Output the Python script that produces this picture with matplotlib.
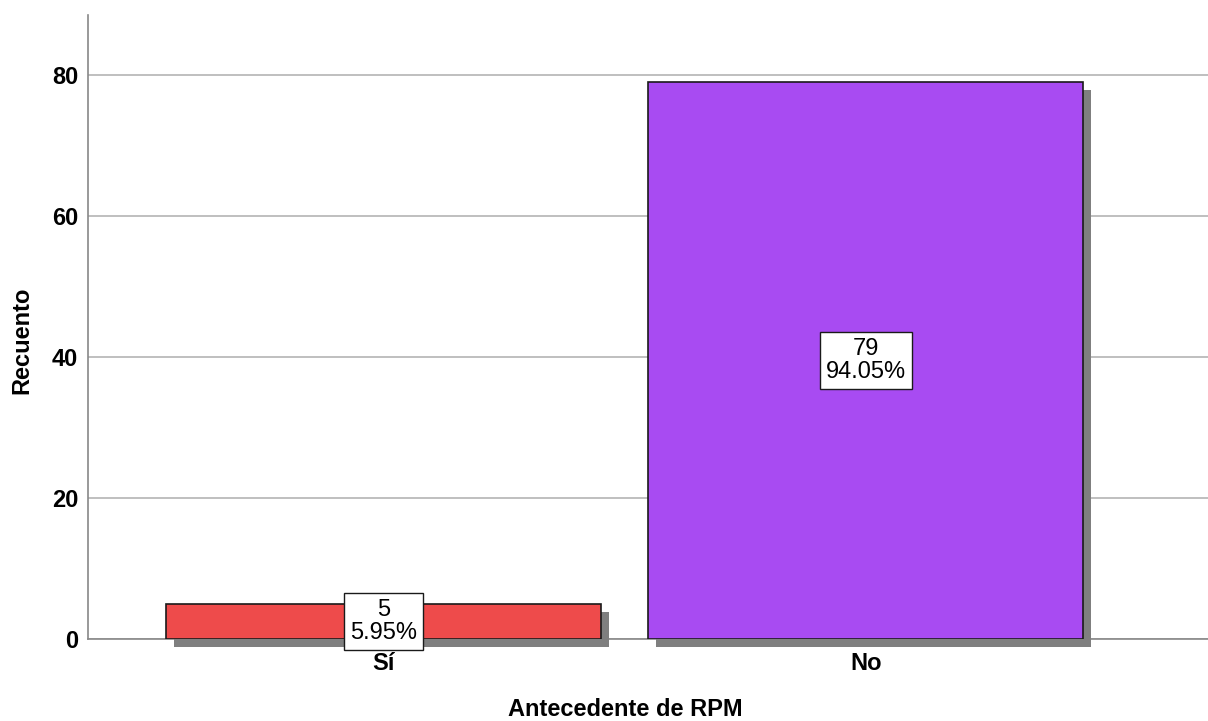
import matplotlib
matplotlib.use("Agg")
import matplotlib.pyplot as plt
import matplotlib.transforms as mtransforms

categories = ["Sí", "No"]
counts = [5, 79]
percents = ["5.95%", "94.05%"]
bar_colors = ["#EE4B4B", "#A84BF2"]
y_ticks = [0, 20, 40, 60, 80]

plt.rcParams["font.family"] = ["Liberation Sans", "DejaVu Sans"]
plt.rcParams["font.weight"] = "bold"
FS = 17

fig = plt.figure(figsize=(12.08, 7.21), dpi=100)
ax = fig.add_axes([88 / 1208, 1 - 639 / 721, 1 - 88 / 1208, (639 - 15) / 721])

x = list(range(len(categories)))
width = 0.9016

# drop shadow behind each bar
shadow_tr = mtransforms.offset_copy(ax.transData, fig=fig, x=8, y=-8, units="dots")
ax.bar(x, counts, width=width, color="#7F7F7F", linewidth=0,
       transform=shadow_tr, zorder=2, clip_on=False)
ax.bar(x, counts, width=width, color=bar_colors, edgecolor="#1A1A1A",
       linewidth=1.2, zorder=3)

for xi, c, p in zip(x, counts, percents):
    ax.text(xi, c / 2, f"{c}\n{p}", ha="center", va="center", fontsize=FS,
            fontweight="medium", linespacing=1.1, zorder=5,
            bbox=dict(boxstyle="square,pad=0.24", facecolor="white",
                      edgecolor="#1A1A1A", linewidth=1))

ax.set_xlim(-0.6124, 1.709)
ax.set_ylim(0, 88.5)
ax.set_yticks(y_ticks)
ax.set_xticks(x)
ax.set_xticklabels(categories)
ax.tick_params(axis="both", length=0, labelsize=FS)
ax.tick_params(axis="y", pad=7)
ax.tick_params(axis="x", pad=9)

ax.yaxis.grid(True, color="#B4B4B4", linewidth=1.2, zorder=0)
ax.set_axisbelow(True)

for side in ["top", "right"]:
    ax.spines[side].set_visible(False)
for side in ["left", "bottom"]:
    ax.spines[side].set_color("#888888")
    ax.spines[side].set_linewidth(1.2)
    ax.spines[side].set_zorder(1)

ax.set_xlabel("Antecedente de RPM", fontsize=FS, fontweight="bold", labelpad=17)
ax.set_ylabel("Recuento", fontsize=FS, fontweight="bold", labelpad=13)
ax.xaxis.label.set_x(0.48)
ax.yaxis.label.set_y(0.479)

fig.savefig("out.png", dpi=100)
